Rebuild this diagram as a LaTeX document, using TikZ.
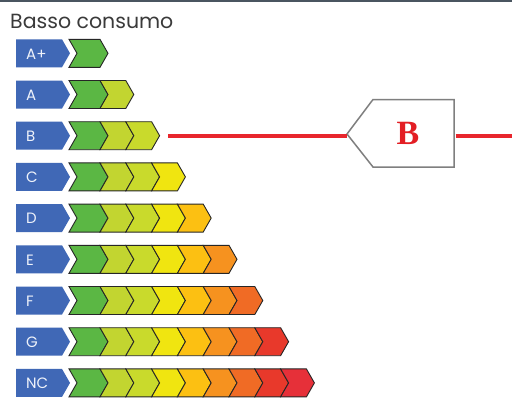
\documentclass[tikz,border=0pt]{standalone}
\usepackage{fontspec}
\setmainfont{Poppins}
\newfontfamily\serifB{Liberation Serif}
\definecolor{topline}{HTML}{4A5560}
\definecolor{lbl}{HTML}{4068B6}
\definecolor{lbltxt}{HTML}{EEF2FA}
\definecolor{title}{HTML}{3A3A3A}
\definecolor{ch1}{HTML}{5BB744}
\definecolor{ch2}{HTML}{C2D530}
\definecolor{ch3}{HTML}{C9DA2C}
\definecolor{ch4}{HTML}{F0E510}
\definecolor{ch5}{HTML}{FCC012}
\definecolor{ch6}{HTML}{F6921F}
\definecolor{ch7}{HTML}{F06B25}
\definecolor{ch8}{HTML}{E8392B}
\definecolor{ch9}{HTML}{E63039}
\definecolor{redline}{HTML}{E8262D}
\definecolor{redB}{HTML}{E31E24}
\definecolor{boxgray}{HTML}{7F7F7F}
\tikzset{
  labeltext/.style={text=lbltxt, font=\fontsize{15}{15}\selectfont, inner sep=0pt},
  chev/.style={draw=black!85, line width=0.9pt, line join=miter},
  pointer/.style={line width=3.6pt, draw=redline},
}
\begin{document}
\begin{tikzpicture}[x=1pt,y=-1pt]
\useasboundingbox (0,0) rectangle (512,397);
\fill[white] (0,0) rectangle (512,397);
\fill[topline] (0,0) rectangle (512,2);
\node[anchor=west, inner sep=0pt, text=title, font=\fontsize{20.5}{20.5}\selectfont] (title) at (10,21.5) {Basso consumo};
\foreach \r/\lab in {0/A+,1/A,2/B,3/C,4/D,5/E,6/F,7/G,8/NC} {
  \pgfmathsetmacro\tp{39.3+41.2*\r}
  \pgfmathsetmacro\md{\tp+14}
  \pgfmathsetmacro\bt{\tp+28}
  \fill[lbl] (16,\tp) -- (62,\tp) -- (70,\md) -- (62,\bt) -- (16,\bt) -- cycle;
  \node[labeltext, anchor=west] (lab\r) at (26,\md+0.5) {\lab};
  \pgfmathtruncatemacro\n{\r+1}
  \foreach \k in {1,...,\n} {
    \pgfmathsetmacro\L{ifthenelse(\k==1,69,100+25.8*(\k-2))}
    \pgfmathsetmacro\R{100+25.8*(\k-1)}
    \filldraw[chev, fill=ch\k] (\L,\tp) -- (\R,\tp) -- (\R+8,\md) -- (\R,\bt) -- (\L,\bt) -- (\L+8,\md) -- cycle;
  }
}
% B marker box
\coordinate (bpt) at (347,134);
\filldraw[fill=white, draw=boxgray, line width=1.5pt, line join=miter] (bpt) -- (373,99.5) -- (454,99.5) -- (454,167) -- (373,167) -- cycle;
\node[text=redB, font=\serifB\bfseries\fontsize{34}{34}\selectfont, inner sep=0pt] (bmark) at (408,133) {B};
\coordinate (lstart) at (168,136);
\coordinate (rstart) at (455.5,136);
\coordinate (rend) at (512,136);
\draw[pointer] (lstart) -- (bpt |- lstart);
\draw[pointer] (rstart) -- (rend);
\end{tikzpicture}
\end{document}
